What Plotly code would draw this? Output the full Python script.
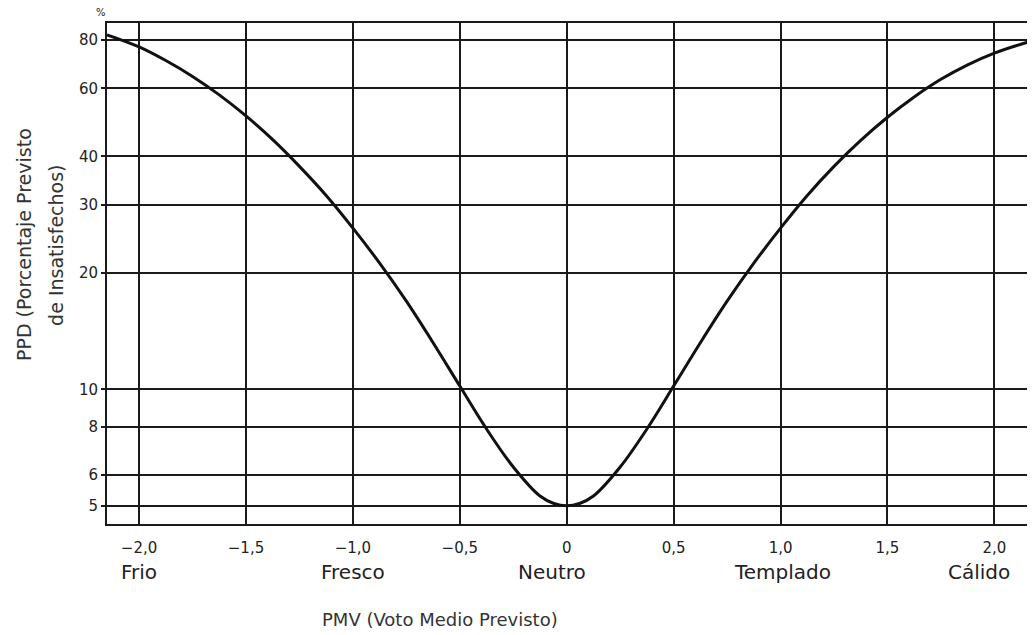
import plotly.graph_objects as go

# 曲线数据 (PMV -> PPD)
pmv = [-2.15, -2.0, -1.875, -1.75, -1.625, -1.5, -1.375, -1.25, -1.125, -1.0,
       -0.875, -0.75, -0.625, -0.5, -0.375, -0.25, -0.125, -0.06, 0.0,
       0.06, 0.125, 0.25, 0.375, 0.5, 0.625, 0.75, 0.875, 1.0,
       1.125, 1.25, 1.375, 1.5, 1.625, 1.75, 1.875, 2.0, 2.19]
ppd = [82.5, 76.8, 70.8, 64.4, 57.7, 50.9, 44.2, 37.7, 31.7, 26.1,
       21.2, 16.9, 13.2, 10.2, 7.9, 6.3, 5.3, 5.07, 5.0,
       5.07, 5.3, 6.3, 7.9, 10.2, 13.2, 16.9, 21.2, 26.1,
       31.7, 37.7, 44.0, 50.5, 57.0, 63.3, 69.0, 74.0, 80.0]

# 坐标轴刻度
x_ticks = [-2.0, -1.5, -1.0, -0.5, 0, 0.5, 1.0, 1.5, 2.0]
x_labels = ["\u22122,0", "\u22121,5", "\u22121,0", "\u22120,5", "0", "0,5", "1,0", "1,5", "2,0"]
y_ticks = [5, 6, 8, 10, 20, 30, 40, 60, 80]
y_labels = ["5", "6", "8", "10", "20", "30", "40", "60", "80"]

# 感觉分类
sense_pos = [-2.0, -1.0, -0.07, 1.01, 1.93]
sense_names = ["Frio", "Fresco", "Neutro", "Templado", "Cálido"]

font = "DejaVu Sans, sans-serif"
ink = "#1a1a1a"

fig = go.Figure()
fig.add_trace(go.Scatter(
    x=pmv, y=ppd, mode="lines", line=dict(color="#111111", width=3, shape="spline", smoothing=1.0),
    showlegend=False, hoverinfo="skip",
))

# 分类标签
for pos, name in zip(sense_pos, sense_names):
    fig.add_annotation(x=pos, y=-0.096, xref="x", yref="paper", text=name, showarrow=False,
                       yanchor="middle", font=dict(family=font, size=20, color="#222222"))

# 轴标题
fig.add_annotation(x=0.359, y=-0.19, xref="paper", yref="paper", text="PMV (Voto Medio Previsto)",
                   showarrow=False, xanchor="center", yanchor="middle",
                   font=dict(family=font, size=18, color="#333333"))
fig.add_annotation(x=-0.0894, y=0.557, xref="paper", yref="paper",
                   text="PPD (Porcentaje Previsto", textangle=-90,
                   showarrow=False, xanchor="center", yanchor="middle",
                   font=dict(family=font, size=19, color="#333333"))
fig.add_annotation(x=-0.055, y=0.557, xref="paper", yref="paper",
                   text="de Insatisfechos)", textangle=-90,
                   showarrow=False, xanchor="center", yanchor="middle",
                   font=dict(family=font, size=19, color="#333333"))
fig.add_annotation(x=-0.0065, y=1.02, xref="paper", yref="paper", text="%", showarrow=False,
                   xanchor="center", yanchor="middle", font=dict(family=font, size=10, color="#222222"))

fig.update_xaxes(
    range=[-2.15, 2.19], tickvals=x_ticks, ticktext=x_labels,
    showgrid=True, gridcolor=ink, gridwidth=1.6,
    showline=True, linecolor=ink, linewidth=2, mirror=True,
    ticks="", zeroline=False, ticklabelstandoff=9,
    tickfont=dict(family=font, size=15, color="#222222"),
)
fig.update_yaxes(
    type="log", range=[0.652, 1.947], tickvals=y_ticks, ticktext=y_labels,
    showgrid=True, gridcolor=ink, gridwidth=1.6,
    showline=True, linecolor=ink, linewidth=2,
    ticks="outside", ticklen=4, tickcolor=ink, tickwidth=2, zeroline=False,
    ticklabelstandoff=0,
    tickfont=dict(family=font, size=15, color="#222222"),
)

# 页面 body 有 8px 边距, 尺寸相应缩小
fig.update_layout(
    width=1027, height=627,
    margin=dict(l=99, r=0, t=15, b=111),
    plot_bgcolor="white", paper_bgcolor="white",
)

fig.write_html("out.html")
